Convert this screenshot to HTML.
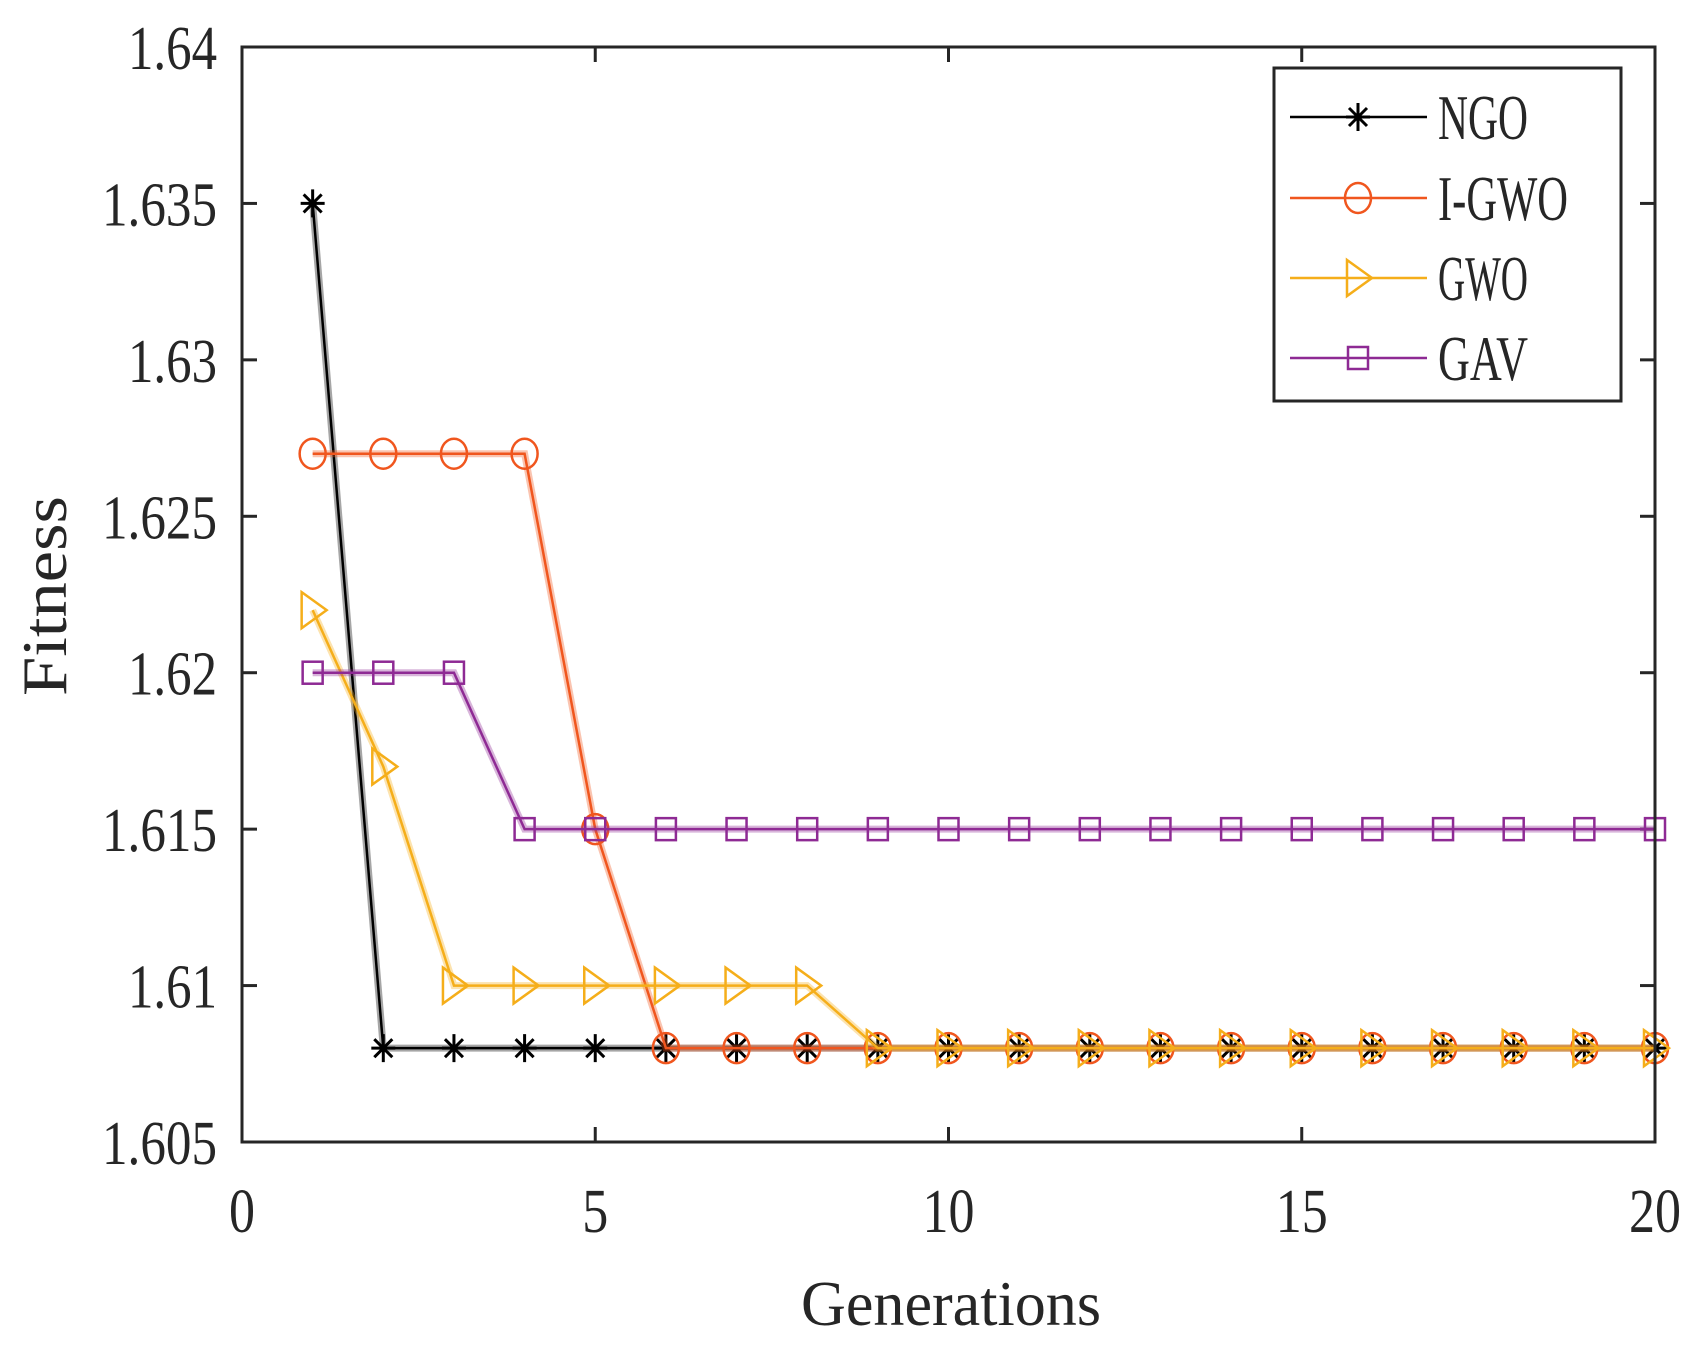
<!DOCTYPE html>
<html><head><meta charset="utf-8"><style>
html,body{margin:0;padding:0;background:#fff;}
svg text{font-family:"Liberation Serif",serif;fill:#262626;}
</style></head><body>
<svg id="chart" width="1706" height="1343" viewBox="0 0 1706 1343" xmlns="http://www.w3.org/2000/svg">
<rect width="1706" height="1343" fill="#fff"/>
<g id="grid"></g>
<g id="series"></g>
<rect x="242" y="47" width="1413" height="1095" fill="none" stroke="#262626" stroke-width="3"/>
<text x="951" y="1325" font-size="64" text-anchor="middle" textLength="300" lengthAdjust="spacingAndGlyphs">Generations</text>
<text transform="translate(66,596) rotate(-90)" font-size="64" text-anchor="middle" textLength="200" lengthAdjust="spacingAndGlyphs">Fitness</text>
<g id="legend">
<rect x="1274" y="68" width="347" height="333" fill="#fff" stroke="#262626" stroke-width="3"/>
</g>
</svg>
<script>
const categories = [1,2,3,4,5,6,7,8,9,10,11,12,13,14,15,16,17,18,19,20];
const seriesNames = ["NGO","I-GWO","GWO","GAV"];
const ngo  = [1.635,1.608,1.608,1.608,1.608,1.608,1.608,1.608,1.608,1.608,1.608,1.608,1.608,1.608,1.608,1.608,1.608,1.608,1.608,1.608];
const igwo = [1.627,1.627,1.627,1.627,1.615,1.608,1.608,1.608,1.608,1.608,1.608,1.608,1.608,1.608,1.608,1.608,1.608,1.608,1.608,1.608];
const gwo  = [1.622,1.617,1.610,1.610,1.610,1.610,1.610,1.610,1.608,1.608,1.608,1.608,1.608,1.608,1.608,1.608,1.608,1.608,1.608,1.608];
const gav  = [1.620,1.620,1.620,1.615,1.615,1.615,1.615,1.615,1.615,1.615,1.615,1.615,1.615,1.615,1.615,1.615,1.615,1.615,1.615,1.615];
const xTicks = [0,5,10,15,20];
const yTicks = [1.605,1.61,1.615,1.62,1.625,1.63,1.635,1.64];
const yTickLabels = ["1.605","1.61","1.615","1.62","1.625","1.63","1.635","1.64"];

const NS="http://www.w3.org/2000/svg";
const L=242,R=1655,T=47,B=1142,xmin=0,xmax=20,ymin=1.605,ymax=1.64;
function xs(v){return L+(v-xmin)/(xmax-xmin)*(R-L);}
function ys(v){return B-(v-ymin)/(ymax-ymin)*(B-T);}
function mk(tag,attrs,parent){const e=document.createElementNS(NS,tag);for(const k in attrs)e.setAttribute(k,attrs[k]);parent.appendChild(e);return e;}
const grid=document.getElementById('grid');
xTicks.forEach(t=>{
  const x=xs(t);
  const a=mk('line',{x1:x,y1:B,x2:x,y2:B-15,stroke:'#262626','stroke-width':3},grid);
  
  
  const b=mk('line',{x1:x,y1:T,x2:x,y2:T+15,stroke:'#262626','stroke-width':3},grid);
  
  
  const s=String(t);
  const tx=mk('text',{x:x,y:1232,'font-size':62,'text-anchor':'middle',textLength:s.length*26,lengthAdjust:'spacingAndGlyphs'},grid);
  tx.textContent=s;
  
  
});
yTicks.forEach((t,i)=>{
  const y=ys(t);
  const a=mk('line',{x1:L,y1:y,x2:L+15,y2:y,stroke:'#262626','stroke-width':3},grid);
  
  
  const b=mk('line',{x1:R,y1:y,x2:R-15,y2:y,stroke:'#262626','stroke-width':3},grid);
  
  
  const s=yTickLabels[i];
  const w=s.replace('.','').length*26+11;
  const tx=mk('text',{x:217,y:y+22,'font-size':62,'text-anchor':'end',textLength:w,lengthAdjust:'spacingAndGlyphs'},grid);
  tx.textContent=s;
  
  
});
const colors=["#000000","#F0561E","#F5AE1A","#8E2A94"];
const markers=["star","circle","tri","square"];
function marker(type,x,y,c,parent){
  let e;
  if(type==='star'){
    e=mk('path',{d:`M${x-12},${y}H${x+12}M${x},${y-14}V${y+14}M${x-9},${y-9}L${x+9},${y+9}M${x-9},${y+9}L${x+9},${y-9}`,stroke:c,'stroke-width':3,fill:'none'},parent);
  }else if(type==='circle'){
    e=mk('ellipse',{cx:x,cy:y,rx:13,ry:15,stroke:c,'stroke-width':2.5,fill:'none'},parent);
  }else if(type==='tri'){
    e=mk('path',{d:`M${x-11},${y-18}L${x+14},${y}L${x-11},${y+18}Z`,stroke:c,'stroke-width':2.5,fill:'none'},parent);
  }else{
    e=mk('rect',{x:x-10,y:y-11,width:20,height:22,stroke:c,'stroke-width':2.5,fill:'none'},parent);
  }
  
  
}
const sg=document.getElementById('series');
[ngo,igwo,gwo,gav].forEach((vals,si)=>{
  const g=mk('g',{},sg);
  
  
  const pts=vals.map((v,i)=>xs(categories[i])+','+ys(v)).join(' ');
  const band=mk('polyline',{points:pts,fill:'none',stroke:colors[si],'stroke-width':7,'stroke-opacity':0.35},g);
  
  
  const pl=mk('polyline',{points:pts,fill:'none',stroke:colors[si],'stroke-width':2.5},g);
  
  
  vals.forEach((v,i)=>marker(markers[si],xs(categories[i]),ys(v),colors[si],g));
});
const lg=document.getElementById('legend');
const ly=[117,198,278,358];
seriesNames.forEach((n,i)=>{
  const g=mk('g',{},lg);
  
  
  const ln=mk('line',{x1:1290,y1:ly[i],x2:1427,y2:ly[i],stroke:colors[i],'stroke-width':2.5},g);
  
  
  marker(markers[i],1358,ly[i],colors[i],g);
  const tx=mk('text',{x:1438,y:ly[i]+22,'font-size':64,textLength:n.length*30+(n==='I-GWO'?-20:0),lengthAdjust:'spacingAndGlyphs'},g);
  tx.textContent=n;
  
  
});
</script>
</body></html>
